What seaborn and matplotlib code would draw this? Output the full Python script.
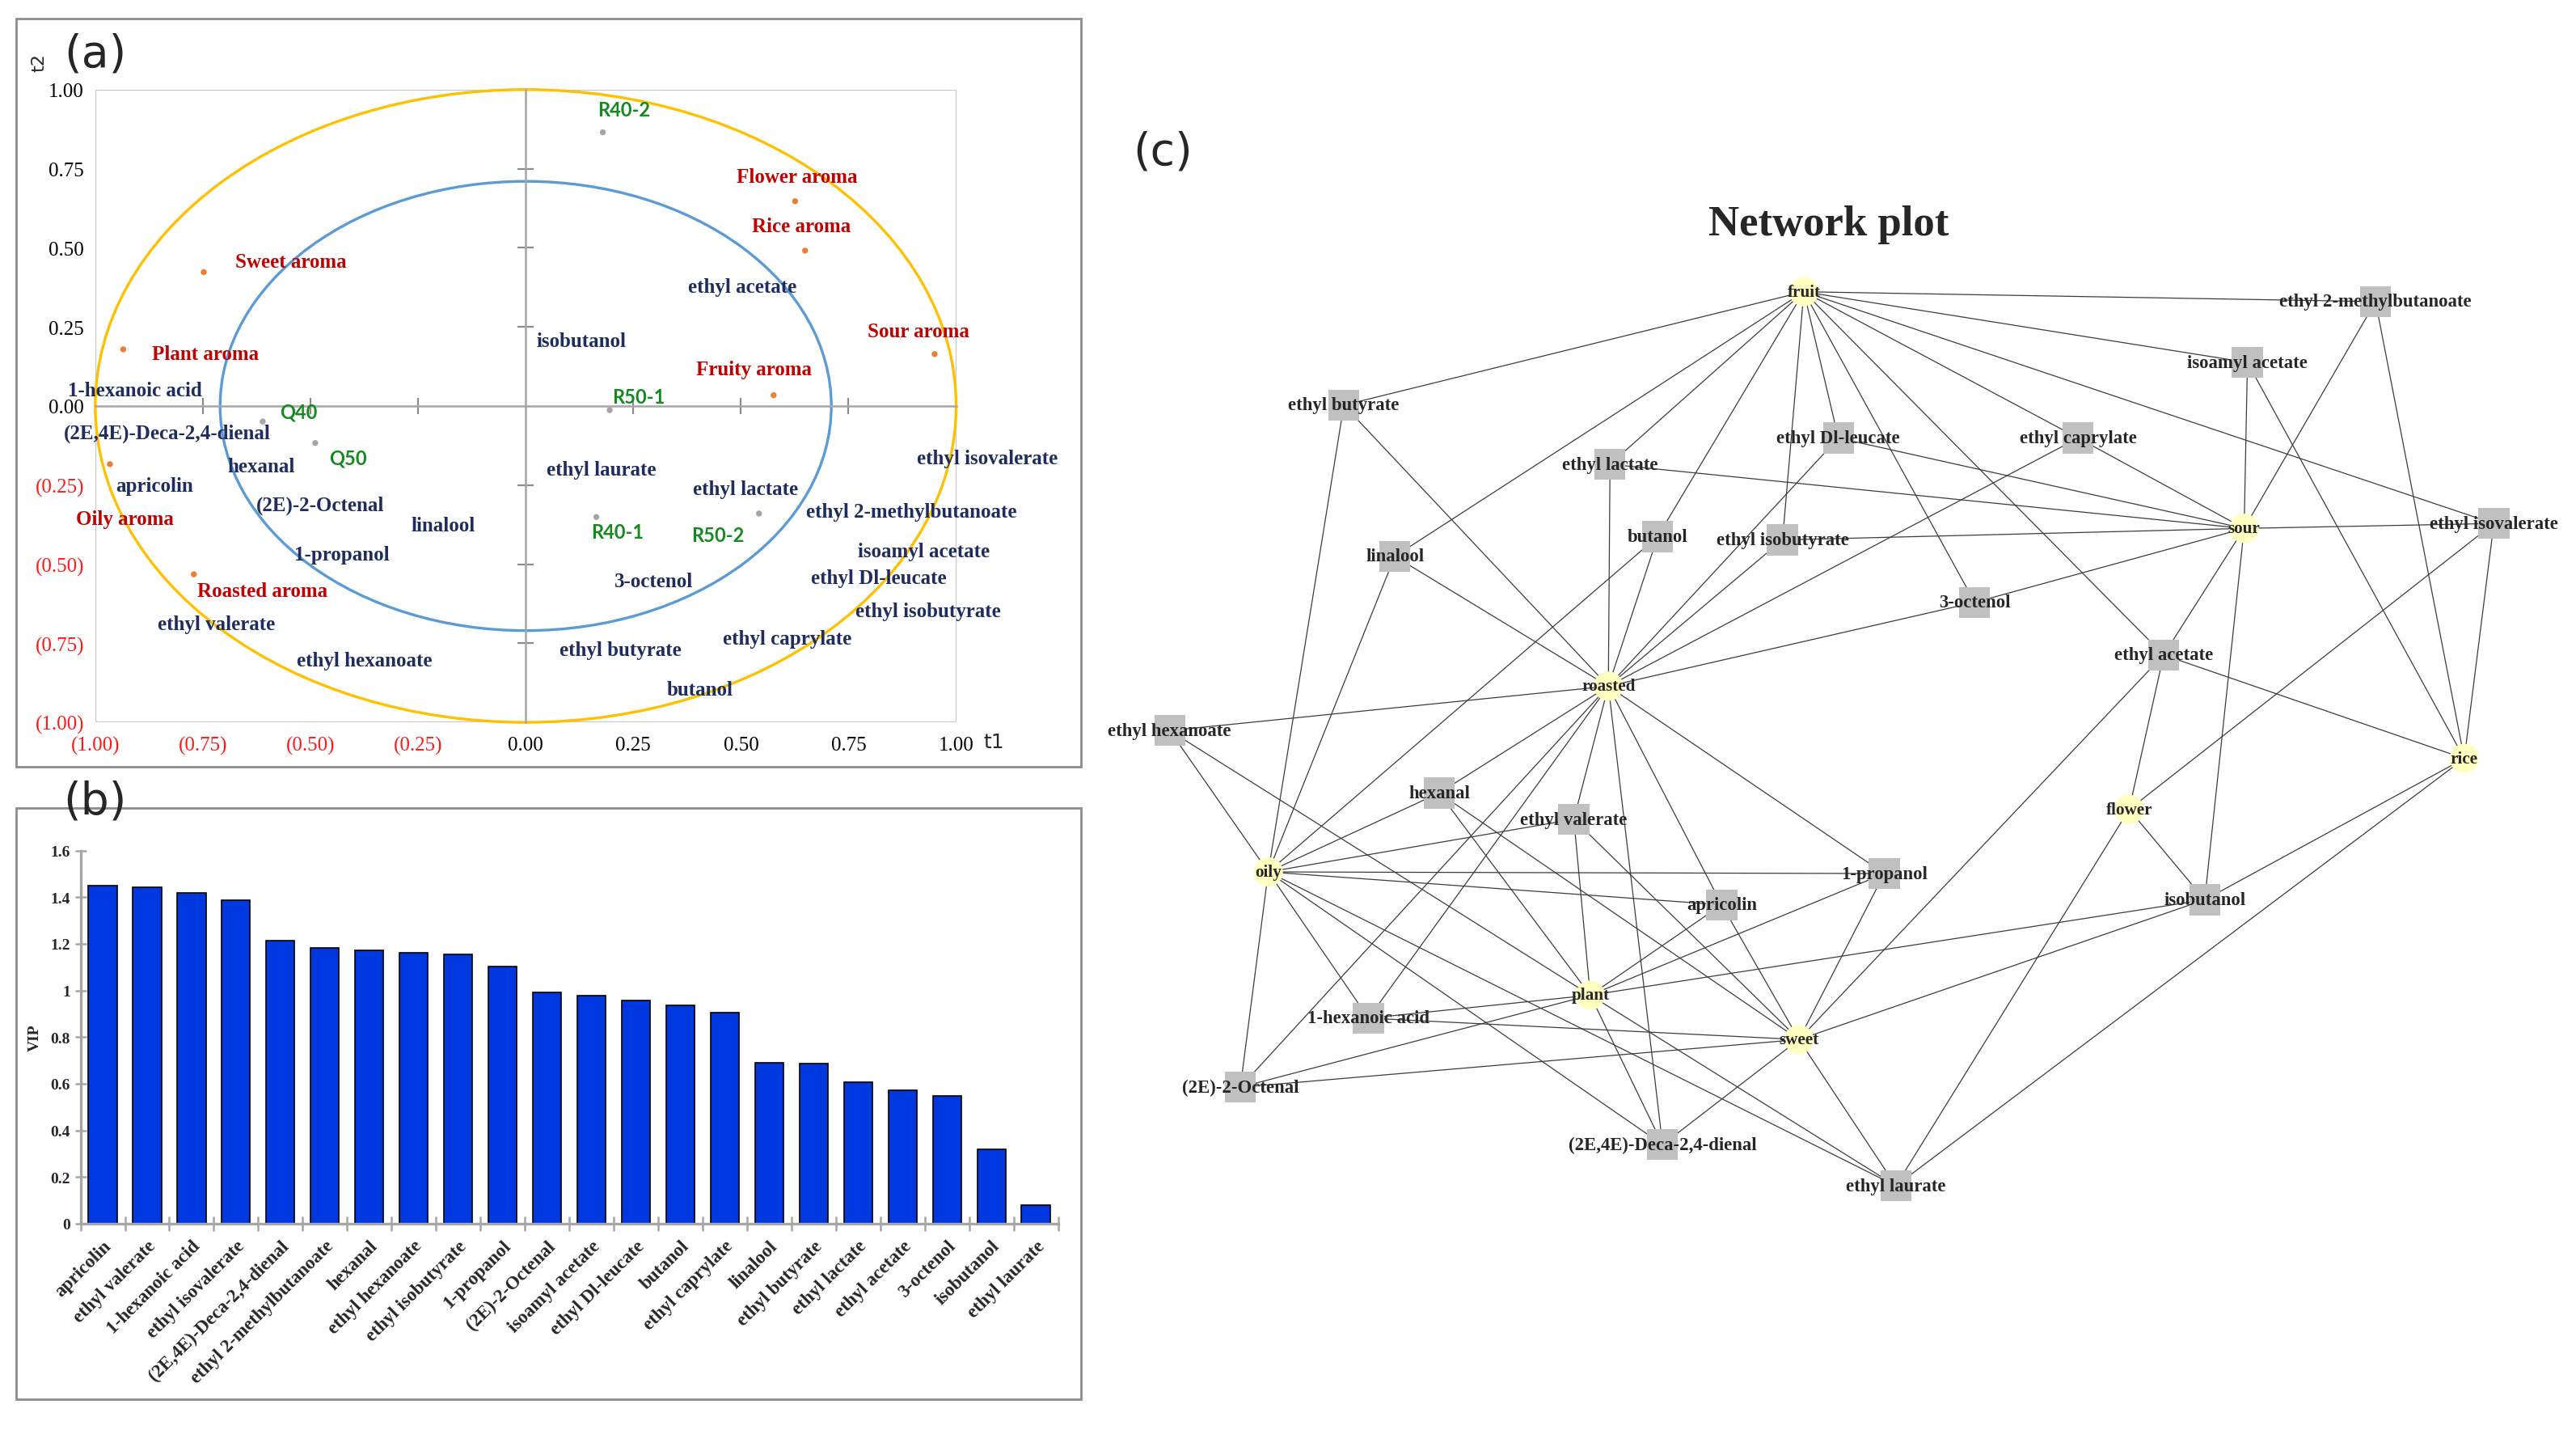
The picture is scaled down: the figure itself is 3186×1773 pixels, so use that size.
import numpy as np
import pandas as pd
import matplotlib
matplotlib.use("Agg")
import matplotlib.pyplot as plt
from matplotlib.patches import Ellipse, Rectangle
from matplotlib.collections import LineCollection
import seaborn as sns

sns.set_style("white")
plt.rcParams['font.family'] = ['Liberation Serif', 'DejaVu Sans']

# ---------------- (a) t1/t2 loading plot ----------------
aroma_names = ["Sweet aroma", "Plant aroma", "Flower aroma", "Rice aroma",
               "Sour aroma", "Fruity aroma", "Oily aroma", "Roasted aroma"]
aroma_t1 = [-0.748, -0.935, 0.626, 0.649, 0.950, 0.576, -0.966, -0.771]
aroma_t2 = [0.423, 0.179, 0.647, 0.491, 0.164, 0.034, -0.184, -0.532]
aroma_lab_t1 = [-0.546, -0.744, 0.630, 0.641, 0.912, 0.531, -0.931, -0.611]
aroma_lab_t2 = [0.455, 0.164, 0.725, 0.569, 0.236, 0.117, -0.356, -0.584]

sample_names = ["R40-2", "R50-1", "Q40", "Q50", "R40-1", "R50-2"]
sample_t1 = [0.179, 0.195, -0.611, -0.489, 0.164, 0.542]
sample_t2 = [0.865, -0.013, -0.049, -0.117, -0.351, -0.340]
sample_lab_t1 = [0.229, 0.263, -0.527, -0.412, 0.214, 0.447]
sample_lab_t2 = [0.938, 0.029, -0.018, -0.164, -0.397, -0.408]

compound_names = ["ethyl acetate", "isobutanol", "1-hexanoic acid", "(2E,4E)-Deca-2,4-dienal",
                  "hexanal", "apricolin", "(2E)-2-Octenal", "linalool", "1-propanol",
                  "ethyl valerate", "ethyl hexanoate", "ethyl laurate", "ethyl lactate",
                  "3-octenol", "ethyl butyrate", "butanol", "ethyl caprylate",
                  "ethyl isovalerate", "ethyl 2-methylbutanoate", "isoamyl acetate",
                  "ethyl Dl-leucate", "ethyl isobutyrate"]
compound_lab_t1 = [0.504, 0.130, -0.908, -0.832, -0.615, -0.863, -0.477, -0.191, -0.427,
                   -0.718, -0.374, 0.176, 0.511, 0.298, 0.221, 0.405, 0.607,
                   1.073, 0.897, 0.924, 0.821, 0.935]
compound_lab_t2 = [0.377, 0.205, 0.049, -0.086, -0.190, -0.252, -0.314, -0.377, -0.470,
                   -0.688, -0.803, -0.200, -0.262, -0.553, -0.771, -0.896, -0.735,
                   -0.164, -0.335, -0.460, -0.543, -0.647]

outer_radius = 1.0
inner_radius = 0.71
axis_ticks = [-0.75, -0.5, -0.25, 0.25, 0.5, 0.75]
label_ticks = [-1.0, -0.75, -0.5, -0.25, 0.0, 0.25, 0.5, 0.75, 1.0]
label_text = ["(1.00)", "(0.75)", "(0.50)", "(0.25)", "0.00", "0.25", "0.50", "0.75", "1.00"]

# ---------------- (b) VIP ----------------
vip_compounds = ["apricolin", "ethyl valerate", "1-hexanoic acid", "ethyl isovalerate",
                 "(2E,4E)-Deca-2,4-dienal", "ethyl 2-methylbutanoate", "hexanal",
                 "ethyl hexanoate", "ethyl isobutyrate", "1-propanol", "(2E)-2-Octenal",
                 "isoamyl acetate", "ethyl Dl-leucate", "butanol", "ethyl caprylate",
                 "linalool", "ethyl butyrate", "ethyl lactate", "ethyl acetate",
                 "3-octenol", "isobutanol", "ethyl laurate"]
vip_values = [1.448, 1.442, 1.417, 1.387, 1.214, 1.183, 1.171, 1.160, 1.153, 1.104, 0.993,
              0.978, 0.957, 0.935, 0.906, 0.691, 0.686, 0.607, 0.571, 0.546, 0.320, 0.078]
vip_ticks = [0, 0.2, 0.4, 0.6, 0.8, 1.0, 1.2, 1.4, 1.6]
vip_tick_text = ["0", "0.2", "0.4", "0.6", "0.8", "1", "1.2", "1.4", "1.6"]

# ---------------- (c) network layout ----------------
aroma_nodes = ["fruit", "sour", "roasted", "oily", "plant", "sweet", "flower", "rice"]
aroma_node_x = [1098, 1366, 979, 772, 968, 1095, 1296, 1500]
aroma_node_y = [178, 322, 418, 531, 606, 633, 493, 462]

net_compounds = ["ethyl 2-methylbutanoate", "isoamyl acetate", "ethyl butyrate", "ethyl lactate",
                 "ethyl Dl-leucate", "ethyl caprylate", "butanol", "ethyl isobutyrate",
                 "linalool", "ethyl isovalerate", "3-octenol", "ethyl acetate",
                 "ethyl hexanoate", "hexanal", "ethyl valerate", "1-propanol", "apricolin",
                 "isobutanol", "1-hexanoic acid", "(2E)-2-Octenal",
                 "(2E,4E)-Deca-2,4-dienal", "ethyl laurate"]
net_compound_x = [1446, 1368, 818, 980, 1119, 1265, 1009, 1085, 849, 1518, 1202, 1317,
                  712, 876, 958, 1147, 1048, 1342, 833, 755, 1012, 1154]
net_compound_y = [184, 221, 247, 283, 267, 267, 327, 329, 339, 319, 367, 399,
                  445, 483, 499, 532, 551, 548, 620, 662, 697, 722]

fruit_links = ["ethyl butyrate", "linalool", "ethyl lactate", "butanol", "ethyl isobutyrate",
               "ethyl Dl-leucate", "3-octenol", "ethyl acetate", "ethyl caprylate",
               "ethyl isovalerate", "isoamyl acetate", "ethyl 2-methylbutanoate"]
sour_links = ["isoamyl acetate", "ethyl 2-methylbutanoate", "ethyl isovalerate", "ethyl caprylate",
              "ethyl Dl-leucate", "ethyl lactate", "ethyl isobutyrate", "3-octenol",
              "ethyl acetate", "isobutanol"]
roasted_links = ["ethyl butyrate", "linalool", "ethyl lactate", "butanol", "ethyl Dl-leucate",
                 "ethyl isobutyrate", "ethyl caprylate", "3-octenol", "ethyl hexanoate",
                 "hexanal", "ethyl valerate", "1-hexanoic acid", "(2E)-2-Octenal",
                 "apricolin", "(2E,4E)-Deca-2,4-dienal", "1-propanol"]
oily_links = ["ethyl hexanoate", "ethyl butyrate", "linalool", "butanol", "hexanal",
              "ethyl valerate", "1-propanol", "apricolin", "1-hexanoic acid",
              "(2E)-2-Octenal", "(2E,4E)-Deca-2,4-dienal", "ethyl laurate"]
plant_links = ["ethyl hexanoate", "hexanal", "ethyl valerate", "apricolin", "1-propanol",
               "1-hexanoic acid", "(2E)-2-Octenal", "(2E,4E)-Deca-2,4-dienal",
               "ethyl laurate", "isobutanol"]
sweet_links = ["hexanal", "ethyl valerate", "apricolin", "1-propanol", "1-hexanoic acid",
               "(2E)-2-Octenal", "(2E,4E)-Deca-2,4-dienal", "ethyl laurate",
               "isobutanol", "ethyl acetate"]
flower_links = ["ethyl acetate", "ethyl isovalerate", "isobutanol", "ethyl laurate"]
rice_links = ["ethyl 2-methylbutanoate", "isoamyl acetate", "ethyl isovalerate",
              "ethyl acetate", "isobutanol", "ethyl laurate"]

links = {"fruit": fruit_links, "sour": sour_links, "roasted": roasted_links,
         "oily": oily_links, "plant": plant_links, "sweet": sweet_links,
         "flower": flower_links, "rice": rice_links}

# colours
AROMA_RED = '#C00000'
NAVY = '#1F2D5E'
GREEN = '#128A1E'
NEG_RED = '#FF1A1A'

fig = plt.figure(figsize=(15.93, 8.87), dpi=200)

# overlay in reference pixel units (frames, panel labels and the network)
ov = fig.add_axes([0, 0, 1, 1])
ov.set_xlim(0, 1568)
ov.set_ylim(873, 0)
ov.axis('off')
ov.patch.set_alpha(0)

ov.add_patch(Rectangle((10, 12), 648, 455, fill=False, ec='#8c8c8c', lw=1.0))
ov.add_patch(Rectangle((10, 492), 648, 360, fill=False, ec='#8c8c8c', lw=1.0))
ov.text(58, 33, "(a)", ha='center', va='center', fontsize=20, family=['DejaVu Sans'])
ov.text(58, 488, "(b)", ha='center', va='center', fontsize=20, family=['DejaVu Sans'])
ov.text(708, 93, "(c)", ha='center', va='center', fontsize=20, family=['DejaVu Sans'])
ov.text(24, 38, "t2", ha='center', va='center', rotation=90, fontsize=8, family=['DejaVu Sans'])
ov.text(605, 452, "t1", ha='center', va='center', fontsize=9, family=['DejaVu Sans'])

# ---------- panel (a) ----------
pos_a = [58 / 1568, 1 - 440 / 873, 524 / 1568, 385 / 873]
ax_a = fig.add_axes(pos_a)
ax_a.set_xlim(-1, 1)
ax_a.set_ylim(-1, 1)
ax_a.patch.set_alpha(0)
for s in ['top', 'right']:
    ax_a.spines[s].set_visible(False)
ax_a.spines['left'].set_position('zero')
ax_a.spines['bottom'].set_position('zero')
for s in ['left', 'bottom']:
    ax_a.spines[s].set_color('#a6a6a6')
    ax_a.spines[s].set_linewidth(0.9)
ax_a.set_xticks(axis_ticks)
ax_a.set_yticks(axis_ticks)
ax_a.tick_params(direction='inout', length=7, width=0.8, color='#8c8c8c',
                 labelbottom=False, labelleft=False, left=True, bottom=True)
ax_a.add_patch(Rectangle((0, 0), 1, 1, transform=ax_a.transAxes, fill=False,
                         ec='#c8c8c8', lw=0.8))
ax_a.add_patch(Ellipse((0, 0), 2 * outer_radius, 2 * outer_radius, fill=False,
                       ec='#FFC000', lw=1.2, clip_on=False))
ax_a.add_patch(Ellipse((0, 0), 2 * inner_radius, 2 * inner_radius, fill=False,
                       ec='#5B9BD5', lw=1.2))

sns.scatterplot(x=aroma_t1, y=aroma_t2, color='#ED7D31', s=7, edgecolor='none', ax=ax_a, zorder=4)
sns.scatterplot(x=sample_t1, y=sample_t2, color='#A5A5A5', s=7, edgecolor='none', ax=ax_a, zorder=4)

for name, x, y in zip(aroma_names, aroma_lab_t1, aroma_lab_t2):
    ax_a.text(x, y, name, color=AROMA_RED, fontsize=9, fontweight='bold',
              ha='center', va='center', clip_on=False, zorder=5)
for name, x, y in zip(compound_names, compound_lab_t1, compound_lab_t2):
    ax_a.text(x, y, name, color=NAVY, fontsize=9, fontweight='bold',
              ha='center', va='center', clip_on=False, zorder=5)
for name, x, y in zip(sample_names, sample_lab_t1, sample_lab_t2):
    ax_a.text(x, y, name, color=GREEN, fontsize=8.5, fontweight='bold',
              family=['Lato', 'DejaVu Sans'], ha='center', va='center', zorder=5)

# tick labels on the box edges
ax_lab = fig.add_axes(pos_a)
ax_lab.set_xlim(-1, 1)
ax_lab.set_ylim(-1, 1)
ax_lab.patch.set_alpha(0)
for s in ax_lab.spines.values():
    s.set_visible(False)
ax_lab.set_xticks(label_ticks)
ax_lab.set_xticklabels(label_text)
ax_lab.set_yticks(label_ticks)
ax_lab.set_yticklabels(label_text)
ax_lab.tick_params(length=0, labelsize=9)
ax_lab.tick_params(axis='x', pad=6)
ax_lab.tick_params(axis='y', pad=5)
for lab in ax_lab.get_xticklabels() + ax_lab.get_yticklabels():
    lab.set_color(NEG_RED if lab.get_text().startswith('(') else 'black')

# ---------- panel (b) ----------
ax_b = fig.add_axes([49 / 1568, 1 - 745 / 873, 595 / 1568, 227 / 873])
vip_df = pd.DataFrame({"compound": vip_compounds, "VIP": vip_values})
sns.barplot(data=vip_df, x="compound", y="VIP", color='#0038E0', saturation=1,
            edgecolor='black', linewidth=0.6, width=0.64, ax=ax_b)
ax_b.set_ylim(0, 1.6)
ax_b.set_xlim(-0.5, len(vip_compounds) - 0.5)
ax_b.patch.set_alpha(0)
for s in ['top', 'right']:
    ax_b.spines[s].set_visible(False)
for s in ['left', 'bottom']:
    ax_b.spines[s].set_color('#a6a6a6')
    ax_b.spines[s].set_linewidth(1.2)
ax_b.set_yticks(vip_ticks)
ax_b.set_yticklabels(vip_tick_text, fontsize=7, fontweight='bold')
ax_b.tick_params(axis='y', direction='inout', length=5, width=0.9, color='#a6a6a6', pad=2, left=True)
ax_b.set_xticks(range(len(vip_compounds)))
ax_b.set_xticklabels(vip_compounds, rotation=45, ha='right', rotation_mode='anchor',
                     fontsize=8.3, fontweight='bold')
ax_b.set_xticks(np.arange(len(vip_compounds) + 1) - 0.5, minor=True)
ax_b.tick_params(axis='x', which='major', length=0, pad=6)
ax_b.tick_params(axis='x', which='minor', direction='inout', length=6.5, width=0.9,
                 color='#a6a6a6', bottom=True)
ax_b.set_xlabel("")
ax_b.set_ylabel("VIP", fontsize=7, fontweight='bold', labelpad=4)

# ---------- panel (c) ----------
ov.text(1113, 137, "Network plot", ha='center', va='center', fontsize=19, fontweight='bold')

aroma_pos = dict(zip(aroma_nodes, zip(aroma_node_x, aroma_node_y)))
comp_pos = dict(zip(net_compounds, zip(net_compound_x, net_compound_y)))
segments = [[aroma_pos[a], comp_pos[c]] for a, cs in links.items() for c in cs]
ov.add_collection(LineCollection(segments, colors='#3c3c3c', linewidths=0.45, zorder=1))

sns.scatterplot(x=net_compound_x, y=net_compound_y, marker='s', s=190, color='#C0C0C0',
                edgecolor='none', ax=ov, zorder=2)
sns.scatterplot(x=aroma_node_x, y=aroma_node_y, marker='o', s=170, color='#FFFFC0',
                edgecolor='none', ax=ov, zorder=2)
ov.set_xlim(0, 1568)
ov.set_ylim(873, 0)

for name, x, y in zip(net_compounds, net_compound_x, net_compound_y):
    ov.text(x, y, name, ha='center', va='center', fontsize=8.2, fontweight='bold', zorder=3)
for name, x, y in zip(aroma_nodes, aroma_node_x, aroma_node_y):
    ov.text(x, y, name, ha='center', va='center', fontsize=7.6, fontweight='bold', zorder=3)

fig.savefig("out.png", dpi=200)
